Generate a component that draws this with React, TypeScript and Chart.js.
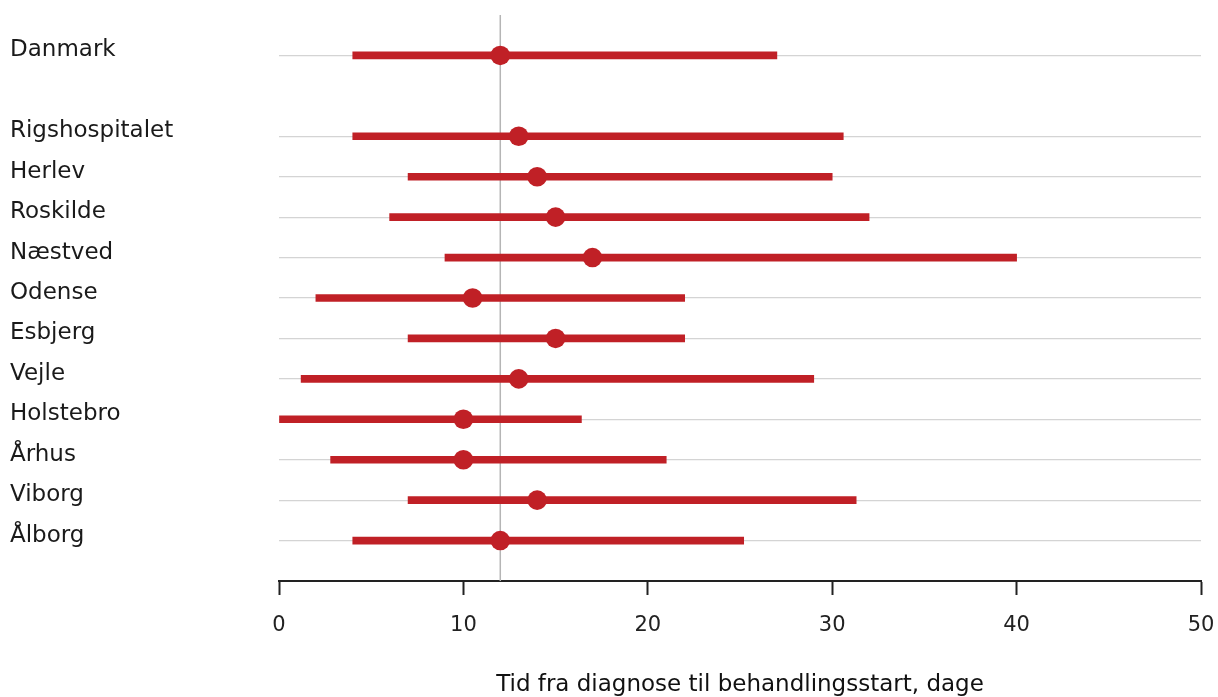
import React, { useEffect, useRef } from "react";
import { Chart, registerables } from "chart.js";

Chart.register(...registerables);

const categories = [
  "Danmark",
  "Rigshospitalet",
  "Herlev",
  "Roskilde",
  "Næstved",
  "Odense",
  "Esbjerg",
  "Vejle",
  "Holstebro",
  "Århus",
  "Viborg",
  "Ålborg",
];
const lowValues = [4, 4, 7, 6, 9, 2, 7, 1.2, 0, 2.8, 7, 4];
const highValues = [27, 30.6, 30, 32, 40, 22, 22, 29, 16.4, 21, 31.3, 25.2];
const medianValues = [12, 13, 14, 15, 17, 10.5, 15, 13, 10, 10, 14, 12];
const xTicks = [0, 10, 20, 30, 40, 50];
const referenceValue = 12;
const axisTitle = "Tid fra diagnose til behandlingsstart, dage";

const RED = "#c02026";
const FONT = "'DejaVu Sans', 'Liberation Sans', Arial, sans-serif";

// slot index: first row (national total) separated by one empty slot
const slotFor = (i: number) => (i === 0 ? 13 : 12 - i);

export default function App() {
  const ref = useRef<HTMLCanvasElement | null>(null);

  useEffect(() => {
    if (!ref.current) return;
    const slotLabels: Record<number, string> = {};
    categories.forEach((c, i) => (slotLabels[slotFor(i)] = c));

    const chart = new Chart(ref.current, {
      type: "scatter",
      data: {
        datasets: [
          {
            type: "scatter",
            label: "Median",
            data: categories.map((_, i) => ({ x: medianValues[i], y: slotFor(i) })),
            backgroundColor: RED,
            borderColor: RED,
            pointRadius: 9.8,
            pointHoverRadius: 9.8,
            borderWidth: 0,
            order: 1,
          } as any,
          {
            type: "bar",
            label: "Range",
            indexAxis: "y",
            data: categories.map((_, i) => ({ y: slotFor(i), x: [lowValues[i], highValues[i]] })),
            backgroundColor: RED,
            borderWidth: 0,
            borderSkipped: false,
            barThickness: 7,
            order: 2,
          } as any,
          {
            type: "line",
            label: "Ref",
            data: [
              { x: referenceValue, y: 0 },
              { x: referenceValue, y: 14 },
            ],
            borderColor: "#b5b5b5",
            borderWidth: 1.5,
            pointRadius: 0,
            fill: false,
            order: 3,
          } as any,
        ],
      },
      options: {
        animation: false,
        responsive: true,
        maintainAspectRatio: false,
        layout: { padding: { left: 10, right: 17, top: 15, bottom: 0 } },
        plugins: { legend: { display: false }, tooltip: { enabled: false } },
        scales: {
          x: {
            type: "linear",
            min: 0,
            max: 50,
            offset: false,
            afterBuildTicks: (scale: any) => {
              scale.ticks = xTicks.map((v) => ({ value: v }));
            },
            afterFit: (scale: any) => {
              scale.height = 116;
              scale.paddingLeft = 0;
              scale.paddingRight = 0;
            },
            border: { display: true, color: "#222", width: 2 },
            grid: {
              display: true,
              offset: false,
              drawOnChartArea: false,
              drawTicks: true,
              tickLength: 14,
              tickColor: "#222",
              tickWidth: 2,
            },
            ticks: {
              color: "#222",
              font: { family: FONT, size: 21 },
              padding: 18,
              maxRotation: 0,
              autoSkip: false,
            },
            title: {
              display: true,
              text: axisTitle,
              color: "#111",
              font: { family: FONT, size: 23 },
              padding: { top: 0, bottom: -2 },
            },
          },
          y: {
            type: "linear",
            min: 0,
            max: 14,
            offset: false,
            afterBuildTicks: (scale: any) => {
              const t = [];
              for (let v = 0; v <= 14; v++) t.push({ value: v });
              scale.ticks = t;
            },
            afterFit: (scale: any) => {
              scale.width = 269;
              scale.paddingTop = 0;
              scale.paddingBottom = 0;
            },
            border: { display: false },
            grid: {
              offset: false,
              drawTicks: false,
              lineWidth: 1.2,
              color: (ctx: any) =>
                ctx.tick && slotLabels[ctx.tick.value] !== undefined ? "#d4d4d4" : "rgba(0,0,0,0)",
            },
            ticks: {
              autoSkip: false,
              crossAlign: "far",
              labelOffset: -5,
              color: "#1a1a1a",
              font: { family: FONT, size: 23 },
              callback: (v: any) => slotLabels[v as number] ?? "",
            },
          },
        },
      } as any,
    });
    return () => chart.destroy();
  }, []);

  return (
    <div style={{ position: "fixed", left: 0, top: 0, width: 1218, height: 697, background: "#fff" }}>
      <canvas ref={ref} />
    </div>
  );
}
